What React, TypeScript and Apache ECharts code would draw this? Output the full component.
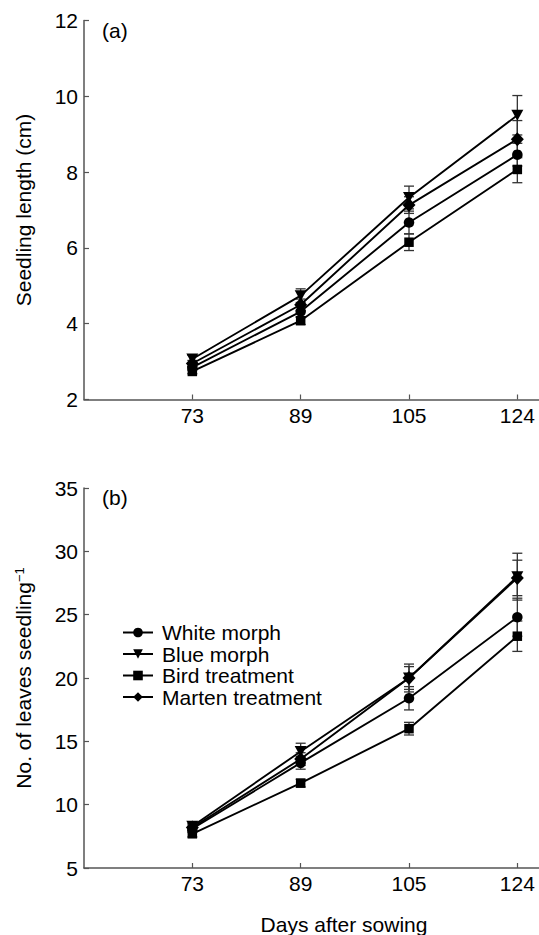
import React, { useEffect, useRef } from "react";
import * as echarts from "echarts";

const days = ["73", "89", "105", "124"];
const seriesNames = ["White morph", "Blue morph", "Bird treatment", "Marten treatment"];

// Panel (a): seedling length (cm)
const whiteLen = [2.85, 4.32, 6.67, 8.46];
const blueLen = [3.07, 4.74, 7.33, 9.5];
const birdLen = [2.74, 4.08, 6.15, 8.07];
const martenLen = [2.95, 4.5, 7.13, 8.87];
const whiteLenErr = [0.08, 0.15, 0.3, 0.3];
const blueLenErr = [0.1, 0.18, 0.3, 0.52];
const birdLenErr = [0.06, 0.1, 0.22, 0.35];
const martenLenErr = [0.08, 0.15, 0.22, 0.49];

// Panel (b): number of leaves per seedling
const whiteLeaf = [8.1, 13.3, 18.4, 24.8];
const blueLeaf = [8.3, 14.2, 20.0, 28.0];
const birdLeaf = [7.7, 11.7, 16.0, 23.3];
const martenLeaf = [8.2, 13.6, 20.0, 27.9];
const whiteLeafErr = [0.3, 0.5, 0.92, 1.5];
const blueLeafErr = [0.35, 0.65, 1.1, 1.85];
const birdLeafErr = [0.25, 0.3, 0.5, 1.2];
const martenLeafErr = [0.3, 0.5, 0.9, 1.4];

const symbols = ["circle", "triangle", "rect", "diamond"];
const symbolSizes: any[] = [10.5, [12, 11], 9.5, [13, 14]];
const symbolRotates = [0, 180, 0, 0];

const FONT = "'Liberation Sans', Arial, Helvetica, sans-serif";
const FS = 21;
const AXIS_COLOR = "#555";

export default function App() {
  const ref = useRef<HTMLDivElement>(null);
  useEffect(() => {
    if (!ref.current) return;
    const chart = echarts.init(ref.current, null, { renderer: "svg" });

    const panels = [
      { vals: [whiteLen, blueLen, birdLen, martenLen], errs: [whiteLenErr, blueLenErr, birdLenErr, martenLenErr] },
      { vals: [whiteLeaf, blueLeaf, birdLeaf, martenLeaf], errs: [whiteLeafErr, blueLeafErr, birdLeafErr, martenLeafErr] },
    ];

    const series: any[] = [];
    panels.forEach((p, gi) => {
      const errData: any[] = [];
      p.vals.forEach((vals, si) => {
        vals.forEach((v, i) => errData.push([i, v - p.errs[si][i], v + p.errs[si][i]]));
      });
      series.push({
        type: "custom",
        name: "err" + gi,
        xAxisIndex: gi,
        yAxisIndex: gi,
        z: 1,
        silent: true,
        data: errData,
        encode: { x: 0, y: [1, 2] },
        renderItem: (params: any, api: any) => {
          const x = api.value(0);
          const lo = api.coord([x, api.value(1)]);
          const hi = api.coord([x, api.value(2)]);
          const hw = 5;
          const style = { stroke: "#333", lineWidth: 1.3 };
          return {
            type: "group",
            children: [
              { type: "line", shape: { x1: lo[0], y1: lo[1], x2: hi[0], y2: hi[1] }, style },
              { type: "line", shape: { x1: lo[0] - hw, y1: lo[1], x2: lo[0] + hw, y2: lo[1] }, style },
              { type: "line", shape: { x1: hi[0] - hw, y1: hi[1], x2: hi[0] + hw, y2: hi[1] }, style },
            ],
          };
        },
      });
      p.vals.forEach((vals, si) => {
        series.push({
          type: "line",
          name: seriesNames[si],
          xAxisIndex: gi,
          yAxisIndex: gi,
          z: 3,
          data: vals.map((v, i) => [i, v]),
          symbol: symbols[si],
          symbolSize: symbolSizes[si],
          symbolRotate: symbolRotates[si],
          showAllSymbol: true,
          lineStyle: { color: "#000", width: 1.9 },
          itemStyle: { color: "#000" },
        });
      });
    });

    const xAxisFor = (gi: number) => ({
      gridIndex: gi,
      type: "value",
      min: -1,
      max: 3.2,
      axisLine: { onZero: false, lineStyle: { color: AXIS_COLOR, width: 1.5 } },
      axisTick: { inside: true, length: 5, customValues: [0, 1, 2, 3], lineStyle: { color: AXIS_COLOR, width: 1.2 } },
      axisLabel: {
        customValues: [0, 1, 2, 3],
        formatter: (v: number) => days[Math.round(v)] ?? "",
        fontSize: FS,
        color: "#000",
        fontFamily: FONT,
        margin: 5,
      },
      splitLine: { show: false },
    });

    const yAxisCommon = {
      type: "value",
      nameLocation: "middle",
      nameGap: 50,
      axisLine: { show: true, onZero: false, lineStyle: { color: AXIS_COLOR, width: 1.5 } },
      axisTick: { show: true, inside: true, length: 5, lineStyle: { color: AXIS_COLOR, width: 1.2 } },
      axisLabel: { fontSize: FS, color: "#000", fontFamily: FONT, margin: 6 },
      splitLine: { show: false },
    };

    const option: any = {
      animation: false,
      textStyle: { fontFamily: FONT },
      grid: [
        { left: 84, top: 20.5, width: 455, height: 379 },
        { left: 84, top: 488, width: 455, height: 380 },
      ],
      xAxis: [xAxisFor(0), xAxisFor(1)],
      yAxis: [
        {
          ...yAxisCommon,
          gridIndex: 0,
          min: 2,
          max: 12,
          interval: 2,
          name: "Seedling length (cm)",
          nameTextStyle: { fontSize: FS, color: "#000", fontFamily: FONT },
        },
        {
          ...yAxisCommon,
          gridIndex: 1,
          min: 5,
          max: 35,
          interval: 5,
          name: "No. of leaves seedling{sup|−1}",
          nameTextStyle: {
            fontSize: FS,
            color: "#000",
            fontFamily: FONT,
            rich: { sup: { fontSize: 13, verticalAlign: "top", lineHeight: 12, fontFamily: FONT, color: "#000" } },
          },
        },
      ],
      legend: {
        data: seriesNames,
        orient: "vertical",
        left: 122,
        top: 622,
        padding: 0,
        itemWidth: 30,
        itemHeight: 12,
        itemGap: 0.5,
        textStyle: { fontSize: FS, color: "#000", fontFamily: FONT, lineHeight: 21, padding: [0, 0, 0, 4] },
        selectedMode: false,
      },
      graphic: [
        { type: "text", left: 102, top: 20, style: { text: "(a)", fontSize: FS, fill: "#000", fontFamily: FONT } },
        { type: "text", left: 102, top: 487, style: { text: "(b)", fontSize: FS, fill: "#000", fontFamily: FONT } },
        {
          type: "text",
          x: 344,
          y: 924,
          style: { text: "Days after sowing", fontSize: FS, fill: "#000", fontFamily: FONT, align: "center", verticalAlign: "middle" },
        },
      ],
      series,
    };
    chart.setOption(option);
    return () => chart.dispose();
  }, []);
  return <div ref={ref} style={{ width: 539, height: 935, position: "absolute", left: 0, top: 0 }} />;
}
